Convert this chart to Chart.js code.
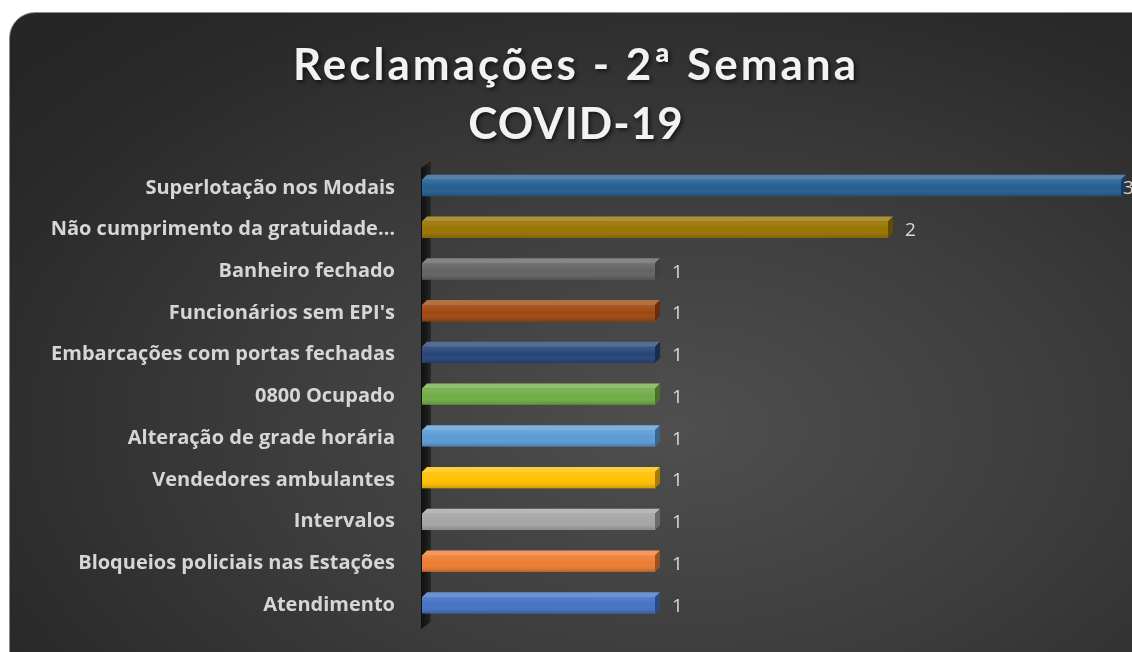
<!DOCTYPE html>
<html>
<head>
<meta charset="utf-8">
<title>Reclamações - 2ª Semana COVID-19</title>
<script src="https://cdn.jsdelivr.net/npm/chart.js@4.4.0/dist/chart.umd.min.js"></script>
<style>
    html, body { margin: 0; padding: 0; background: #ffffff; overflow: hidden; }
    #painel {
        position: absolute; left: 9px; top: 12px; width: 1150px; height: 670px;
        border-radius: 26px; border: 1px solid #8c8c8c; box-sizing: border-box;
        background: radial-gradient(ellipse 75% 80% at 58% 62%, #4f4f4f 0%, #3d3d3d 45%, #2a2a2a 85%, #262626 100%);
    }
    #grafico { position: absolute; left: 0; top: 0; }
</style>
</head>
<body>
<div id="painel"></div>
<canvas id="grafico" width="1132" height="652"></canvas>
<script>
const categorias = [
    'Superlotação nos Modais',
    'Não cumprimento da gratuidade…',
    'Banheiro fechado',
    "Funcionários sem EPI's",
    'Embarcações com portas fechadas',
    '0800 Ocupado',
    'Alteração de grade horária',
    'Vendedores ambulantes',
    'Intervalos',
    'Bloqueios policiais nas Estações',
    'Atendimento'
]
const reclamacoes = [3, 2, 1, 1, 1, 1, 1, 1, 1, 1, 1]
const cores = ['#255E91', '#997300', '#636363', '#9E480E', '#264478', '#70AD47',
               '#5B9BD5', '#FFC000', '#A5A5A5', '#ED7D31', '#4472C4']
const titulo = ['Reclamações - 2ª Semana', 'COVID-19']

const canvas = document.getElementById('grafico')
const context = canvas.getContext('2d')
const prof = 5

// parede 3D do eixo vertical
const parede = {
    id: 'parede',
    beforeDatasetsDraw(chart) {
        const { ctx, chartArea } = chart
        const l = chartArea.left
        ctx.save()
        const g = ctx.createLinearGradient(l - 1, 0, l + 10, 0)
        g.addColorStop(0, '#101010')
        g.addColorStop(0.6, '#1c1c1c')
        g.addColorStop(1, '#2e2e2e')
        ctx.fillStyle = g
        ctx.beginPath()
        ctx.moveTo(l - 1, chartArea.top + 1)
        ctx.lineTo(l + 9, chartArea.top - 6)
        ctx.lineTo(l + 9, chartArea.bottom - 4)
        ctx.lineTo(l - 1, chartArea.bottom + 3)
        ctx.closePath()
        ctx.fill()
        ctx.restore()
    }
}

// faces 3D das barras e rótulos de valor
const barras3d = {
    id: 'barras3d',
    afterDatasetsDraw(chart) {
        const { ctx } = chart
        const meta = chart.getDatasetMeta(0)
        ctx.save()
        meta.data.forEach((bar, i) => {
            const h = bar.height
            const top = bar.y - h / 2
            const bottom = bar.y + h / 2
            const x0 = bar.base
            const x1 = bar.x

            const gf = ctx.createLinearGradient(0, top, 0, bottom)
            gf.addColorStop(0, 'rgba(255,255,255,0.10)')
            gf.addColorStop(0.5, 'rgba(255,255,255,0)')
            gf.addColorStop(1, 'rgba(0,0,0,0.18)')
            ctx.fillStyle = gf
            ctx.fillRect(x0, top, x1 - x0, h)

            ctx.beginPath()
            ctx.moveTo(x0, top)
            ctx.lineTo(x0 + prof, top - prof)
            ctx.lineTo(x1 + prof, top - prof)
            ctx.lineTo(x1, top)
            ctx.closePath()
            ctx.fillStyle = cores[i]
            ctx.fill()
            ctx.fillStyle = 'rgba(255,255,255,0.22)'
            ctx.fill()

            ctx.beginPath()
            ctx.moveTo(x1, top)
            ctx.lineTo(x1 + prof, top - prof)
            ctx.lineTo(x1 + prof, bottom - prof)
            ctx.lineTo(x1, bottom)
            ctx.closePath()
            ctx.fillStyle = cores[i]
            ctx.fill()
            ctx.fillStyle = 'rgba(0,0,0,0.35)'
            ctx.fill()

            // rótulo do valor (o último cabe só em parte, como no original)
            ctx.fillStyle = '#d9d9d9'
            ctx.font = '19px "Open Sans"'
            ctx.textAlign = 'left'
            ctx.textBaseline = 'middle'
            const xl = Math.min(x1 + 17, chart.width - 9)
            ctx.fillText(String(reclamacoes[i]), xl, bar.y + 1)
        })
        ctx.restore()
    }
}

const tituloPlugin = {
    id: 'tituloPlugin',
    afterDraw(chart) {
        const { ctx } = chart
        ctx.save()
        ctx.font = 'bold 44px Lato'
        ctx.textAlign = 'center'
        ctx.textBaseline = 'alphabetic'
        ctx.fillStyle = '#f2f2f2'
        ctx.shadowColor = 'rgba(0,0,0,0.65)'
        ctx.shadowOffsetX = 2
        ctx.shadowOffsetY = 2
        ctx.shadowBlur = 4
        ctx.letterSpacing = '3px'
        ctx.fillText(titulo[0], 576, 80)
        ctx.letterSpacing = '1px'
        ctx.fillText(titulo[1], 576, 139)
        ctx.restore()
    }
}

const chartReclamacoes = new Chart(context, {
    type: 'bar',
    data: {
        labels: categorias,
        datasets: [
            {
                label: 'Reclamações',
                data: reclamacoes,
                backgroundColor: cores,
                borderWidth: 0,
                barThickness: 16
            }
        ]
    },
    options: {
        indexAxis: 'y',
        responsive: false,
        animation: false,
        layout: {
            padding: { top: 167, bottom: 26, left: 0, right: 0 }
        },
        scales: {
            x: {
                display: false,
                min: 0,
                max: 3.047
            },
            y: {
                grid: { display: false },
                border: { display: false },
                ticks: {
                    color: '#d6d6d6',
                    padding: 19,
                    font: { family: 'Open Sans', weight: 'bold', size: 20 }
                },
                afterFit(scale) {
                    scale.width = 422
                    scale.paddingTop = 0
                    scale.paddingBottom = 0
                }
            }
        },
        plugins: {
            legend: { display: false },
            tooltip: { enabled: false },
            title: { display: false }
        }
    },
    plugins: [parede, barras3d, tituloPlugin]
})
</script>
</body>
</html>
